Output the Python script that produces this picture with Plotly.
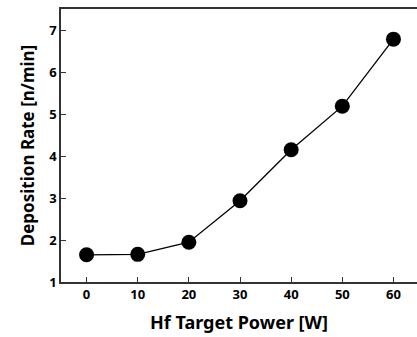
import plotly.graph_objects as go

power = [0, 10, 20, 30, 40, 50, 60]
rate = [1.65, 1.66, 1.95, 2.94, 4.16, 5.2, 6.8]
x_ticks = [0, 10, 20, 30, 40, 50, 60]
y_ticks = [1, 2, 3, 4, 5, 6, 7]

fig = go.Figure()
fig.add_trace(go.Scatter(
    x=power, y=rate, mode="lines+markers",
    line=dict(color="black", width=1.3),
    marker=dict(color="black", size=15),
    cliponaxis=False,
))

font_family = "Noto Sans, DejaVu Sans, sans-serif"
fig.update_layout(
    width=417, height=337,
    margin=dict(l=61, r=0, t=9, b=55),
    plot_bgcolor="white", paper_bgcolor="white",
    showlegend=False,
    font=dict(family=font_family, color="black"),
)
fig.update_xaxes(
    range=[-5, 64.6], tickvals=x_ticks,
    ticks="inside", ticklen=5, tickwidth=1, tickcolor="#333",
    showline=True, linecolor="#333", linewidth=1.5, mirror=True,
    showgrid=False, zeroline=False,
    tickfont=dict(size=13, family=font_family, weight="bold"),
    title=dict(text="<b>Hf Target Power [W]</b>", font=dict(size=18), standoff=14),
)
fig.update_yaxes(
    range=[1, 7.52], tickvals=y_ticks,
    ticks="inside", ticklen=5, tickwidth=1, tickcolor="#333",
    showline=True, linecolor="#333", linewidth=1.5, mirror=False,
    showgrid=False, zeroline=False,
    tickfont=dict(size=13, family=font_family, weight="bold"),
    title=dict(text="<b>Deposition Rate [n/min]</b>", font=dict(size=17), standoff=10),
)
fig.write_html("out.html")
